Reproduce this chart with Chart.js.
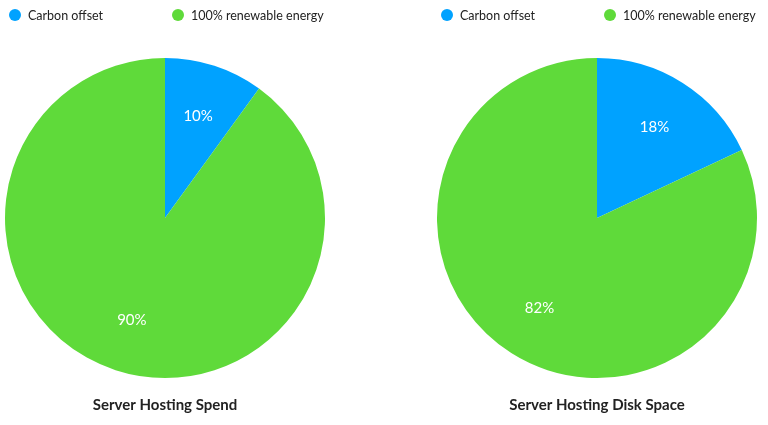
<!DOCTYPE html>
<html>
<head>
<meta charset="utf-8">
<script src="https://cdn.jsdelivr.net/npm/chart.js@4"></script>
<style>
  body { margin: 0; background: #fff; font-family: Lato, sans-serif; }
  .box { position: absolute; top: 0; width: 330px; height: 425px; }
  .legend { position: absolute; top: 6px; left: 9px; display: flex; font-size: 12.5px; color: #222; }
  .legend span { display: flex; align-items: center; height: 18px; }
  .legend i { display: inline-block; width: 12px; height: 12px; border-radius: 50%; margin-right: 7px; }
</style>
</head>
<body>
<div class="box" style="left:0"><div class="legend" id="leg1"></div><canvas id="pie1" width="330" height="425"></canvas></div>
<div class="box" style="left:432px"><div class="legend" id="leg2"></div><canvas id="pie2" width="330" height="425"></canvas></div>
<script>
var labels = ["Carbon offset", "100% renewable energy"];
var colors = ["#00A2FF", "#5FDA3A"];
var spendValues = [10, 90];
var diskValues = [18, 82];
var titles = ["Server Hosting Spend", "Server Hosting Disk Space"];

// percent labels placed at ~2/3 of radius
var sliceLabels = {
  id: 'sliceLabels',
  afterDatasetsDraw: function(chart) {
    var ctx = chart.ctx;
    var meta = chart.getDatasetMeta(0);
    var data = chart.data.datasets[0].data;
    ctx.save();
    ctx.fillStyle = '#fff';
    ctx.font = '15px Lato';
    ctx.textAlign = 'center';
    ctx.textBaseline = 'middle';
    meta.data.forEach(function(arc, i) {
      var p = arc.getProps(['x', 'y', 'startAngle', 'endAngle', 'outerRadius']);
      var mid = (p.startAngle + p.endAngle) / 2;
      var r = p.outerRadius * 0.67;
      ctx.fillText(data[i] + '%', p.x + Math.cos(mid) * r, p.y + Math.sin(mid) * r);
    });
    ctx.restore();
  }
};

function legend(id) {
  var el = document.getElementById(id);
  labels.forEach(function(l, i) {
    var s = document.createElement('span');
    s.style.width = i == 0 ? '163px' : 'auto';
    s.innerHTML = '<i style="background:' + colors[i] + '"></i>' + l;
    el.appendChild(s);
  });
}

function makePie(id, values, title) {
  return new Chart(document.getElementById(id), {
    type: 'pie',
    data: {
      labels: labels,
      datasets: [{ data: values, backgroundColor: colors, borderWidth: 0 }]
    },
    options: {
      responsive: false,
      animation: false,
      layout: { padding: { top: 58 } },
      plugins: {
        legend: { display: false },
        tooltip: { enabled: false },
        title: {
          display: true,
          position: 'bottom',
          text: title,
          color: '#222',
          font: { family: 'Lato', size: 15, weight: 'bold', lineHeight: 1.2 },
          padding: { top: 18, bottom: 11 }
        }
      }
    },
    plugins: [sliceLabels]
  });
}

legend('leg1');
legend('leg2');
makePie('pie1', spendValues, titles[0]);
makePie('pie2', diskValues, titles[1]);
</script>
</body>
</html>
